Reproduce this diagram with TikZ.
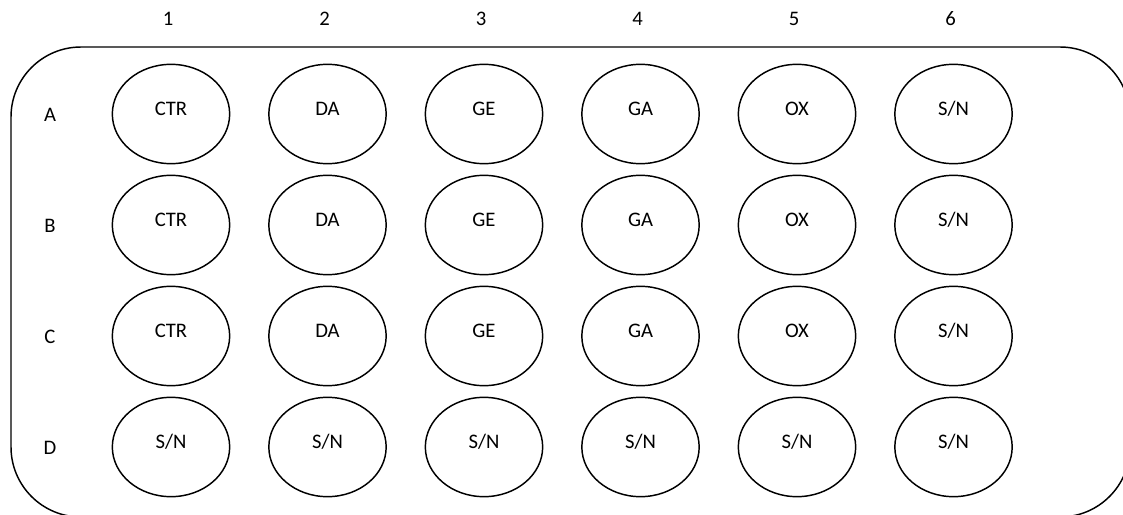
\documentclass[tikz,border=0pt]{standalone}
\usepackage{fontspec}
\setmainfont{Carlito}
\usetikzlibrary{shapes.geometric}

\begin{document}
\begin{tikzpicture}[x=0.75pt,y=-0.75pt,font=\fontsize{15.5}{18}\selectfont,
	well/.style={draw,ellipse,line width=1.1pt,inner sep=0pt,minimum width=88pt,minimum height=74.5pt,text height=0.7em,text depth=0.42em},
	plate/.style={draw,line width=1.1pt,rounded corners=52.5pt},
	rowlabel/.style={inner sep=0pt,text height=0.64em,text depth=0pt}]
	\clip (0,0) rectangle (1123,514);
	\draw[plate] (11,47) rectangle (1130,517);

	% columns
	\foreach \c/\x in {1/171,2/327.5,3/484,4/640.5,5/797,6/953.5}
		\node[rowlabel] (col\c) at (\x-3,21) {\c};

	% rows and wells
	\foreach \r/\y in {A/114,B/225,C/336}{
		\node[rowlabel] (row\r) at (50,\y+3) {\r};
		\foreach \c/\x/\t in {1/171/CTR,2/327.5/DA,3/484/GE,4/640.5/GA,5/797/OX,6/953.5/{S/N}}
			\node[well] (\r\c) at (\x,\y) {\t};
	}
	\node[rowlabel] (rowD) at (50,450) {D};
	\foreach \c/\x in {1/171,2/327.5,3/484,4/640.5,5/797,6/953.5}
		\node[well] (D\c) at (\x,447) {S/N};
\end{tikzpicture}
\end{document}
